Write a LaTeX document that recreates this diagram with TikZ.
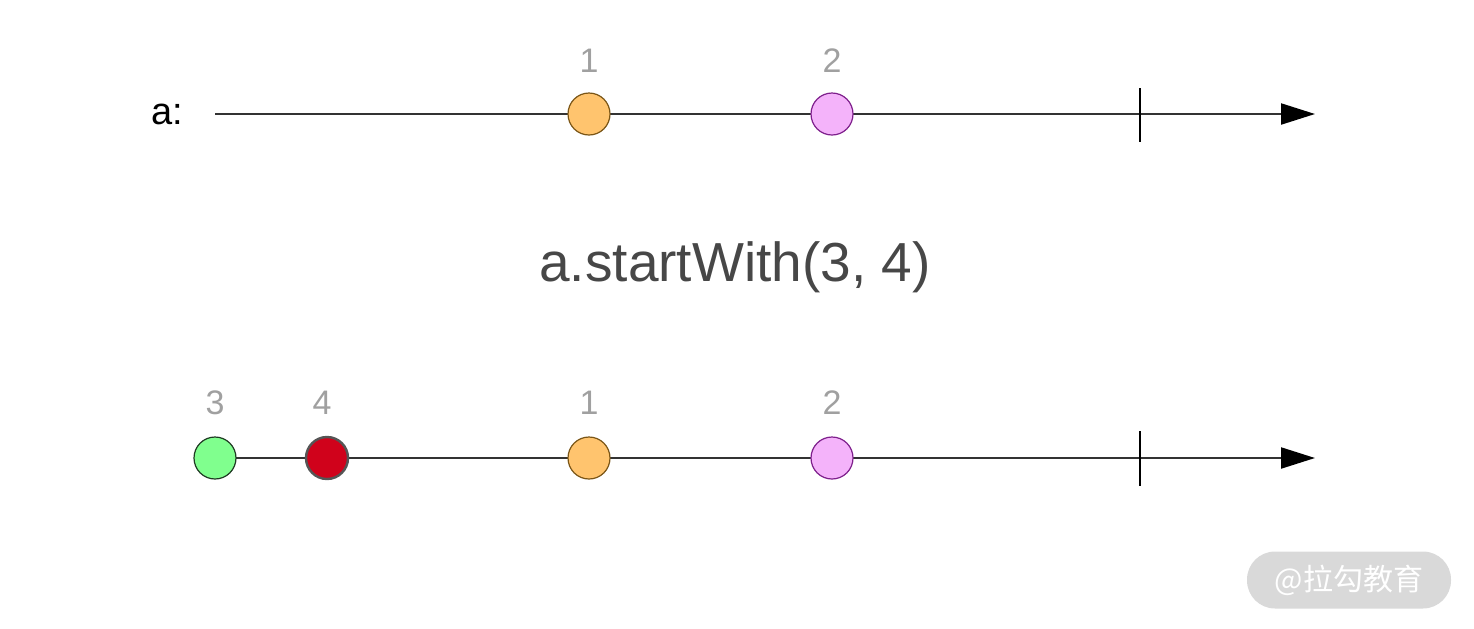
\documentclass[tikz,border=0pt]{standalone}
\usepackage{fontspec}
\setmainfont{Liberation Sans}
\newfontfamily\cjk{Noto Sans CJK SC}
\usetikzlibrary{arrows.meta}
\definecolor{linec}{HTML}{333333}
\definecolor{labc}{HTML}{A0A0A0}
\definecolor{orf}{HTML}{FFC46E}
\definecolor{ord}{HTML}{7A5516}
\definecolor{pkf}{HTML}{F4B3FA}
\definecolor{pkd}{HTML}{7E1F8C}
\definecolor{grf}{HTML}{80FF8E}
\definecolor{grd}{HTML}{1E3A22}
\definecolor{rdf}{HTML}{D0021B}
\definecolor{rdd}{HTML}{555555}
\tikzset{
  timeline/.style={draw=linec, line width=1.1pt, -{Triangle[length=17pt,width=10.5pt,color=black]}},
  tickmark/.style={draw=black, line width=1.1pt},
  marble/.style={circle, minimum size=21pt, inner sep=0pt, line width=0.6pt},
  lab/.style={text=labc, font=\fontsize{17}{17}\selectfont},
}
\begin{document}
\begin{tikzpicture}[x=0.5pt,y=-0.5pt]
\useasboundingbox (0,0) rectangle (1474,628);
% top
\node[anchor=east, font=\fontsize{19}{19}\selectfont] (alab) at (190,114) {a:};
\coordinate (a0) at (215,114);
\coordinate (a1) at (1315,114);
\draw[timeline] (a0) -- (a1);
\coordinate (t1a) at (1140,88);
\coordinate (t1b) at (1140,142);
\draw[tickmark] (t1a) -- (t1b);
\node[marble, fill=orf, draw=ord] (o1) at (589,114) {};
\node[marble, fill=pkf, draw=pkd] (p1) at (832,114) {};
\node[lab] (l1) at (589,61) {1};
\node[lab] (l2) at (832,61) {2};
% title
\node[text=black!72, font=\fontsize{27.5}{28}\selectfont] (title) at (735,267) {a.startWith(3, 4)};
% bottom
\coordinate (b0) at (215,458);
\coordinate (b1) at (1315,458);
\draw[timeline] (b0) -- (b1);
\coordinate (t2a) at (1140,431);
\coordinate (t2b) at (1140,486);
\draw[tickmark] (t2a) -- (t2b);
\node[marble, fill=grf, draw=grd] (g2) at (215,458) {};
\node[marble, fill=rdf, draw=rdd, line width=1.2pt] (r2) at (327,458) {};
\node[marble, fill=orf, draw=ord] (o2) at (589,458) {};
\node[marble, fill=pkf, draw=pkd] (p2) at (832,458) {};
\node[lab] (m3) at (215,403) {3};
\node[lab] (m4) at (322,403) {4};
\node[lab] (m1) at (589,403) {1};
\node[lab] (m2) at (832,403) {2};
% watermark
\node[fill=black!15, rounded corners=14pt, minimum width=102pt, minimum height=28.5pt, inner sep=0pt, text=white, font=\cjk\fontsize{15}{15}\selectfont] (wm) at (1349,580) {@拉勾教育};
\end{tikzpicture}
\end{document}
